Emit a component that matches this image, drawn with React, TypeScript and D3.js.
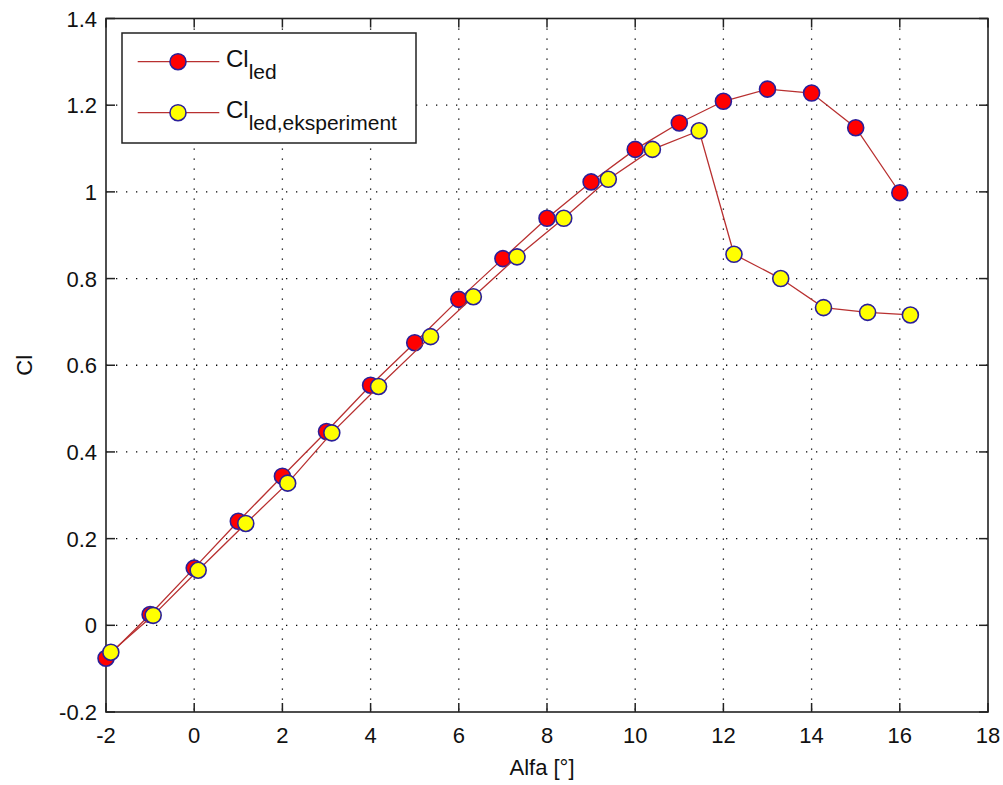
import * as React from "react";
import * as d3 from "d3";

// Cl_led (computed) at integer angles
const alfaLed: number[] = [-2, -1, 0, 1, 2, 3, 4, 5, 6, 7, 8, 9, 10, 11, 12, 13, 14, 15, 16];
const clLed: number[] = [-0.076, 0.025, 0.132, 0.24, 0.344, 0.447, 0.554, 0.652, 0.752, 0.846, 0.939, 1.023, 1.098, 1.159, 1.209, 1.237, 1.228, 1.148, 0.998];

// Cl_led,eksperiment
const alfaExp: number[] = [-1.89, -0.93, 0.09, 1.17, 2.12, 3.12, 4.18, 5.36, 6.33, 7.32, 8.38, 9.39, 10.39, 11.45, 12.24, 13.3, 14.27, 15.27, 16.24];
const clExp: number[] = [-0.062, 0.023, 0.127, 0.235, 0.328, 0.444, 0.551, 0.666, 0.758, 0.85, 0.939, 1.029, 1.098, 1.141, 0.856, 0.8, 0.733, 0.722, 0.716];

const xTicks: number[] = [-2, 0, 2, 4, 6, 8, 10, 12, 14, 16, 18];
const yTicks: number[] = [-0.2, 0, 0.2, 0.4, 0.6, 0.8, 1, 1.2, 1.4];
const yTickLabels: string[] = ["-0.2", "0", "0.2", "0.4", "0.6", "0.8", "1", "1.2", "1.4"];

const W = 1003;
const H = 785;
const left = 106;
const right = 988;
const top = 18.5;
const bottom = 712;

const x = d3.scaleLinear().domain([-2, 18]).range([left, right]);
const y = d3.scaleLinear().domain([-0.2, 1.4]).range([bottom, top]);

const font = "'Liberation Sans', Arial, sans-serif";
const lineColor = "#b83030";
const edgeColor = "#2a1f9a";

const series = [
  { xs: alfaLed, ys: clLed, fill: "#ff0000", label: "led" },
  { xs: alfaExp, ys: clExp, fill: "#ffff00", label: "led,eksperiment" }
];

const line = d3
  .line<[number, number]>()
  .x(d => x(d[0]))
  .y(d => y(d[1]));

export default function App() {
  const tickLen = 9;
  return (
    <svg width={W} height={H} style={{ position: "absolute", left: 0, top: 0, background: "#fff" }}>
      {/* grid */}
      {xTicks.slice(1, -1).map(t => (
        <line key={"gx" + t} x1={x(t)} x2={x(t)} y1={top} y2={bottom} stroke="#000" strokeWidth={1.3} strokeDasharray="1.3 8.7" />
      ))}
      {yTicks.slice(1, -1).map(t => (
        <line key={"gy" + t} x1={left} x2={right} y1={y(t)} y2={y(t)} stroke="#000" strokeWidth={1.3} strokeDasharray="1.3 8.7" />
      ))}
      {/* box */}
      <rect x={left} y={top} width={right - left} height={bottom - top} fill="none" stroke="#222" strokeWidth={1.6} />
      {xTicks.map(t => (
        <g key={"tx" + t}>
          <line x1={x(t)} x2={x(t)} y1={bottom} y2={bottom - tickLen} stroke="#222" strokeWidth={1.5} />
          <line x1={x(t)} x2={x(t)} y1={top} y2={top + tickLen} stroke="#222" strokeWidth={1.5} />
          <text x={x(t)} y={743} textAnchor="middle" fontFamily={font} fontSize={22} fill="#111">
            {t}
          </text>
        </g>
      ))}
      {yTicks.map((t, i) => (
        <g key={"ty" + t}>
          <line x1={left} x2={left + tickLen} y1={y(t)} y2={y(t)} stroke="#222" strokeWidth={1.5} />
          <line x1={right} x2={right - tickLen} y1={y(t)} y2={y(t)} stroke="#222" strokeWidth={1.5} />
          <text x={97} y={y(t) + 8} textAnchor="end" fontFamily={font} fontSize={22} fill="#111">
            {yTickLabels[i]}
          </text>
        </g>
      ))}
      <text x={542} y={775} textAnchor="middle" fontFamily={font} fontSize={22} fill="#111">
        Alfa [°]
      </text>
      <text transform={`translate(32,${(top + bottom) / 2}) rotate(-90)`} textAnchor="middle" fontFamily={font} fontSize={22} fill="#111">
        Cl
      </text>
      {/* series */}
      {series.map((s, si) => (
        <g key={"s" + si}>
          <path d={line(s.xs.map((v, i) => [v, s.ys[i]] as [number, number])) || ""} fill="none" stroke={lineColor} strokeWidth={1.3} />
          {s.xs.map((v, i) => (
            <circle key={i} cx={x(v)} cy={y(s.ys[i])} r={8} fill={s.fill} stroke={edgeColor} strokeWidth={1.6} />
          ))}
        </g>
      ))}
      {/* legend */}
      <rect x={122} y={33} width={294} height={110} fill="#fff" stroke="#222" strokeWidth={1.5} />
      {series.map((s, si) => {
        const ly = 61.7 + si * 51;
        return (
          <g key={"l" + si}>
            <line x1={137.7} x2={219.3} y1={ly} y2={ly} stroke={lineColor} strokeWidth={1.3} />
            <circle cx={178} cy={ly} r={8} fill={s.fill} stroke={edgeColor} strokeWidth={1.6} />
            <text x={226} y={ly + 5} fontFamily={font} fontSize={24} fill="#111">
              Cl
              <tspan dy={12} fontSize={21}>
                {s.label}
              </tspan>
            </text>
          </g>
        );
      })}
    </svg>
  );
}
